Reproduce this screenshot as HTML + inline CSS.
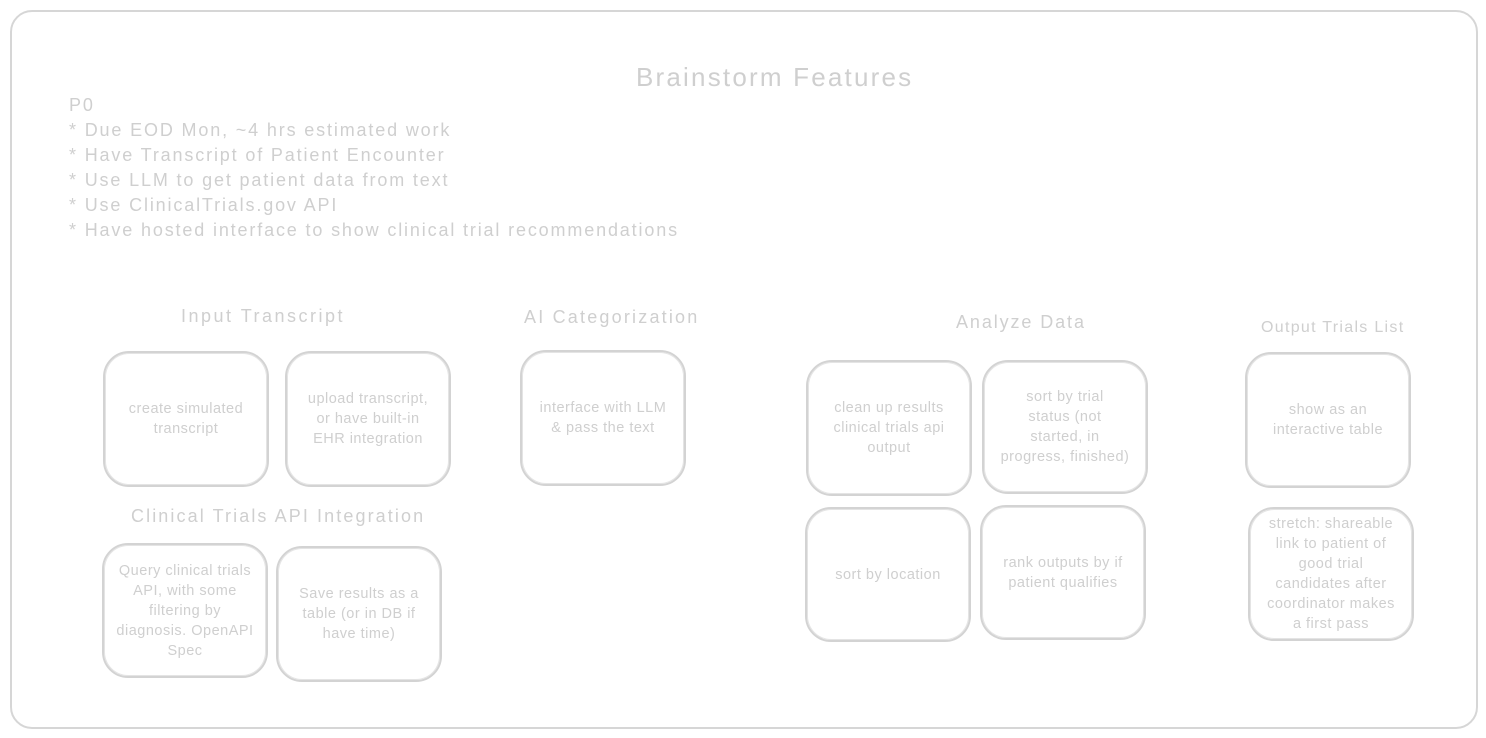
<!DOCTYPE html>
<html><head><meta charset="utf-8"><style>
body{margin:0;width:1486px;height:738px;background:#fff;position:relative;overflow:hidden;font-family:"Liberation Sans",sans-serif;color:#cfcfcf}
.frame{position:absolute;left:10px;top:10px;width:1464px;height:715px;border:2px solid #d6d6d6;border-radius:22px}
.t{position:absolute;white-space:nowrap}
.b{position:absolute;border:2px solid #d3d3d3;border-radius:26px;box-shadow:0 0 0 1px #e4e4e4 inset;display:flex;align-items:center;justify-content:center;text-align:center;font-size:14.5px;line-height:20px;letter-spacing:0.5px;box-sizing:border-box;padding:2px}
.h{font-size:18px;letter-spacing:2.3px}
.l{font-size:18px;letter-spacing:1.85px;line-height:25px}
</style></head><body>
<div class="frame"></div>
<div class="t" style="left:636px;top:62px;font-size:26px;letter-spacing:2.2px">Brainstorm Features</div>
<div class="t l" style="left:69px;top:93px">P0<br>* Due EOD Mon, ~4 hrs estimated work<br>* Have Transcript of Patient Encounter<br>* Use LLM to get patient data from text<br>* Use ClinicalTrials.gov API<br>* Have hosted interface to show clinical trial recommendations</div>
<div class="t h" style="left:181px;top:306px;letter-spacing:2.5px">Input Transcript</div>
<div class="t h" style="left:524px;top:307px;letter-spacing:2.2px">AI Categorization</div>
<div class="t h" style="left:956px;top:312px;letter-spacing:1.9px">Analyze Data</div>
<div class="t" style="left:1261px;top:319px;font-size:16px;letter-spacing:1.3px">Output Trials List</div>
<div class="t h" style="left:131px;top:506px;letter-spacing:2.1px">Clinical Trials API Integration</div>
<div class="b" style="left:103px;top:351px;width:166px;height:136px">create simulated<br>transcript</div>
<div class="b" style="left:285px;top:351px;width:166px;height:136px">upload transcript,<br>or have built-in<br>EHR integration</div>
<div class="b" style="left:520px;top:350px;width:166px;height:136px">interface with LLM<br>&amp; pass the text</div>
<div class="b" style="left:806px;top:360px;width:166px;height:136px">clean up results<br>clinical trials api<br>output</div>
<div class="b" style="left:982px;top:360px;width:166px;height:134px">sort by trial<br>status (not<br>started, in<br>progress, finished)</div>
<div class="b" style="left:805px;top:507px;width:166px;height:135px">sort by location</div>
<div class="b" style="left:980px;top:505px;width:166px;height:135px">rank outputs by if<br>patient qualifies</div>
<div class="b" style="left:1245px;top:352px;width:166px;height:136px">show as an<br>interactive table</div>
<div class="b" style="left:1248px;top:507px;width:166px;height:134px">stretch: shareable<br>link to patient of<br>good trial<br>candidates after<br>coordinator makes<br>a first pass</div>
<div class="b" style="left:102px;top:543px;width:166px;height:135px">Query clinical trials<br>API, with some<br>filtering by<br>diagnosis. OpenAPI<br>Spec</div>
<div class="b" style="left:276px;top:546px;width:166px;height:136px">Save results as a<br>table (or in DB if<br>have time)</div>
</body></html>
